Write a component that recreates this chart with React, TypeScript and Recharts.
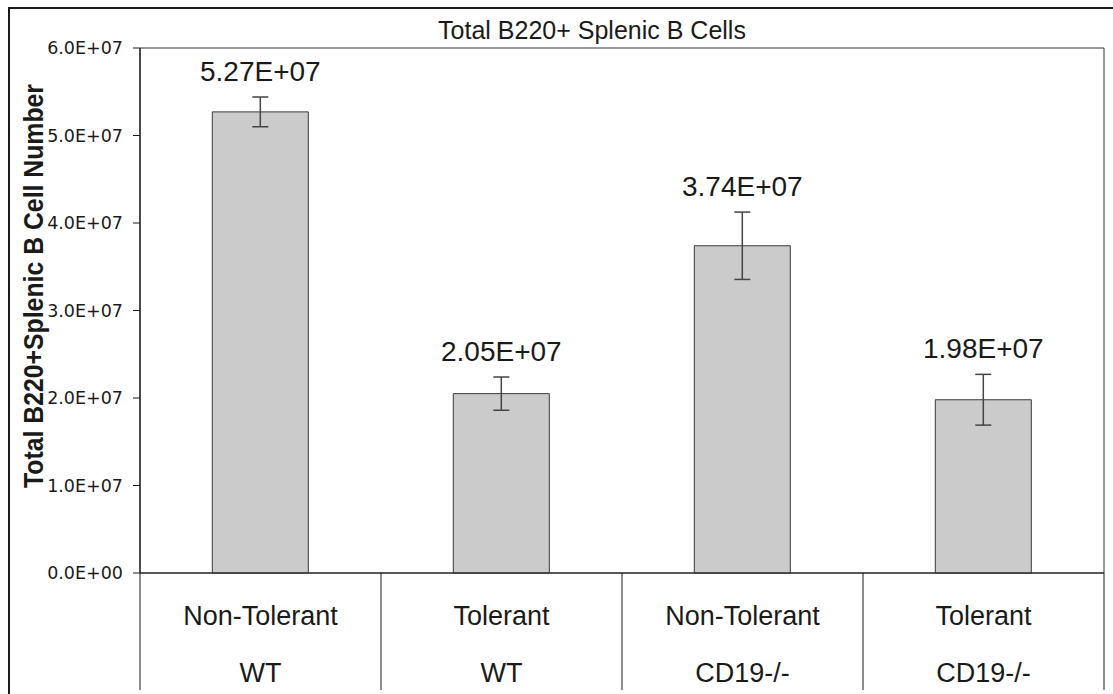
import { BarChart, Bar, XAxis, YAxis, ErrorBar, LabelList, ReferenceArea, Label } from "recharts";

// Total B220+ splenic B cells per group (mean ± error)
const CONDITIONS = ["Non-Tolerant", "Tolerant", "Non-Tolerant", "Tolerant"];
const GENOTYPES = ["WT", "WT", "CD19-/-", "CD19-/-"];
const CELL_COUNTS = [5.27e7, 2.05e7, 3.74e7, 1.98e7];
const CELL_COUNT_ERRORS = [1.7e6, 1.9e6, 3.85e6, 2.9e6];
const Y_TICKS = [0, 1e7, 2e7, 3e7, 4e7, 5e7, 6e7];

const data = CONDITIONS.map((c, i) => ({
  group: `${c} ${GENOTYPES[i]}`,
  count: CELL_COUNTS[i],
  err: CELL_COUNT_ERRORS[i],
}));

const FONT = '"Liberation Sans", Arial, sans-serif';
const TICK_FONT = '"DejaVu Sans", sans-serif';
const INK = "#1a1a1a";
const W = 1103;
const H = 685;
const MARGIN = { top: 39, right: 9, left: 10, bottom: 4 };
const Y_AXIS_W = 120;
const X_AXIS_H = 117;
const BAND = (W - MARGIN.left - MARGIN.right - Y_AXIS_W) / CONDITIONS.length;

// 5.27e7 -> "5.27E+07"
function sci(v: number, digits: number) {
  const [m, e] = v.toExponential(digits).split("e");
  const sign = e[0] === "-" ? "-" : "+";
  const exp = e.replace(/^[+-]/, "").padStart(2, "0");
  return `${m}E${sign}${exp}`;
}

// two-row category label with divider lines between groups
function GroupTick(props: any) {
  const { x, y, index } = props;
  const half = BAND / 2;
  const last = index === CONDITIONS.length - 1;
  return (
    <g>
      <line x1={x - half} y1={y} x2={x - half} y2={y + X_AXIS_H} stroke={INK} strokeWidth={1} />
      {last && (
        <line x1={x + half} y1={y} x2={x + half} y2={y + X_AXIS_H} stroke={INK} strokeWidth={1} />
      )}
      <text x={x} y={y + 52} textAnchor="middle" fontSize={27} fontFamily={FONT} fill={INK}>
        {CONDITIONS[index]}
      </text>
      <text x={x} y={y + 109} textAnchor="middle" fontSize={27} fontFamily={FONT} fill={INK}>
        {GENOTYPES[index]}
      </text>
    </g>
  );
}

// value label sits just above the top of the error bar
function ValueLabel(props: any) {
  const { x, y, width, height, value, index } = props;
  const perUnit = height / value;
  const errTop = y - CELL_COUNT_ERRORS[index] * perUnit;
  return (
    <text
      x={x + width / 2}
      y={errTop - 16}
      textAnchor="middle"
      fontSize={28}
      fontFamily={FONT}
      fill={INK}
    >
      {sci(value, 2)}
    </text>
  );
}

export default function App() {
  return (
    <div
      style={{
        position: "absolute",
        left: 8,
        top: 7,
        width: W,
        height: H,
        borderLeft: `2px solid ${INK}`,
        borderTop: `2px solid ${INK}`,
        background: "#fff",
        fontFamily: FONT,
      }}
    >
      <div
        style={{
          position: "absolute",
          left: 382,
          top: 9,
          width: 400,
          textAlign: "center",
          fontSize: 25,
          lineHeight: "25px",
          color: INK,
          whiteSpace: "nowrap",
        }}
      >
        Total B220+ Splenic B Cells
      </div>
      <BarChart width={W} height={H} data={data} margin={MARGIN} barCategoryGap="30%">
        <ReferenceArea y1={0} y2={6e7} fill="none" stroke="#333" strokeWidth={1} ifOverflow="visible" />
        <XAxis
          dataKey="group"
          height={X_AXIS_H}
          interval={0}
          tickSize={0}
          tickMargin={0}
          tickLine={false}
          axisLine={{ stroke: INK, strokeWidth: 1.2 }}
          tick={<GroupTick />}
        />
        <YAxis
          width={Y_AXIS_W}
          domain={[0, 6e7]}
          ticks={Y_TICKS}
          interval={0}
          tickSize={7}
          tickMargin={10}
          tickFormatter={(v: number) => sci(v, 1)}
          tick={{ fontSize: 17.5, fill: INK, fontFamily: TICK_FONT }}
          tickLine={{ stroke: INK }}
          axisLine={{ stroke: INK, strokeWidth: 1.2 }}
        >
          <Label
            content={() => (
              <text
                x={33}
                y={277}
                transform="rotate(-90 33 277)"
                textAnchor="middle"
                fontSize={28}
                fontWeight="bold"
                fontFamily={FONT}
                fill={INK}
                textLength={404}
                lengthAdjust="spacingAndGlyphs"
              >
                Total B220+Splenic B Cell Number
              </text>
            )}
          />
        </YAxis>
        <Bar dataKey="count" fill="#cbcbcb" stroke="#3a3a3a" strokeWidth={1} isAnimationActive={false}>
          <ErrorBar dataKey="err" width={8} stroke="#444" strokeWidth={1.5} isAnimationActive={false} />
          <LabelList dataKey="count" content={<ValueLabel />} />
        </Bar>
      </BarChart>
    </div>
  );
}
